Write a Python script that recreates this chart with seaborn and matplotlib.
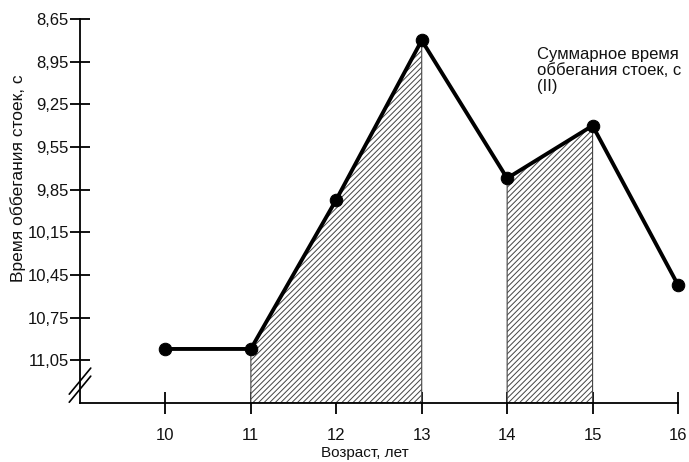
import matplotlib
matplotlib.use("Agg")
import matplotlib.pyplot as plt
import pandas as pd
import seaborn as sns

# Данные: возраст и суммарное время оббегания стоек
ages = [10, 11, 12, 13, 14, 15, 16]
times = [10.97, 10.97, 9.92, 8.80, 9.77, 9.40, 10.52]
y_ticks = [8.65, 8.95, 9.25, 9.55, 9.85, 10.15, 10.45, 10.75, 11.05]
y_tick_labels = ["8,65", "8,95", "9,25", "9,55", "9,85", "10,15", "10,45", "10,75", "11,05"]
shaded = [(11, 13), (14, 15)]

df = pd.DataFrame({"age": ages, "time": times})

sns.set_style("ticks")
plt.rcParams["font.family"] = ["Liberation Sans", "DejaVu Sans"]
plt.rcParams["hatch.linewidth"] = 0.7
plt.rcParams["text.color"] = "#111111"
plt.rcParams["axes.labelcolor"] = "#111111"

fig = plt.figure(figsize=(6.89, 4.62), dpi=100)
ax = fig.add_axes([80 / 689, 1 - 403 / 462, 598 / 689, 384 / 462])

ax.set_xlim(9, 16)
ax.set_ylim(11.35, 8.65)
y_bottom = ax.get_ylim()[0]

# штриховка под кривой
for a, b in shaded:
    sub = df[(df["age"] >= a) & (df["age"] <= b)]
    ax.fill_between(sub["age"], sub["time"], y_bottom, facecolor="white",
                    edgecolor="#444444", hatch="//////", linewidth=0.8, zorder=1)

sns.lineplot(data=df, x="age", y="time", ax=ax, color="black", linewidth=2.8,
             marker="o", markersize=9, markeredgecolor="black", zorder=3,
             clip_on=False)

ax.set_xticks(ages)
ax.set_xticklabels([str(a) for a in ages])
ax.set_yticks(y_ticks)
ax.set_yticklabels(y_tick_labels)

for s in ["top", "right"]:
    ax.spines[s].set_visible(False)
for s in ["left", "bottom"]:
    ax.spines[s].set_linewidth(1.3)
    ax.spines[s].set_color("black")

ax.tick_params(axis="x", direction="inout", length=16, width=1.3, pad=10,
               labelsize=12, colors="black", labelcolor="#111111")
ax.tick_params(axis="y", direction="inout", length=14, width=1.3, pad=1,
               labelsize=12, colors="black", labelcolor="#111111")

ax.set_xlabel("Возраст, лет", fontsize=11)
ax.set_ylabel("Время оббегания стоек, с", fontsize=12.5)
ax.xaxis.set_label_coords((365 - 80) / 598, -(446 - 403) / 384)
ax.yaxis.set_label_coords(-(80 - 26) / 598, (403 - 178) / 384)

# разрыв оси
for yc in [0.036, 0.057]:
    ax.plot([-0.018, 0.018], [yc - 0.034, yc + 0.034], transform=ax.transAxes,
            color="black", linewidth=1.2, clip_on=False)

ax.text(14.35, 8.85, "Суммарное время\nоббегания стоек, с\n(II)", fontsize=12,
        va="top", ha="left", linespacing=1.08)

plt.savefig("out.png", dpi=100)
